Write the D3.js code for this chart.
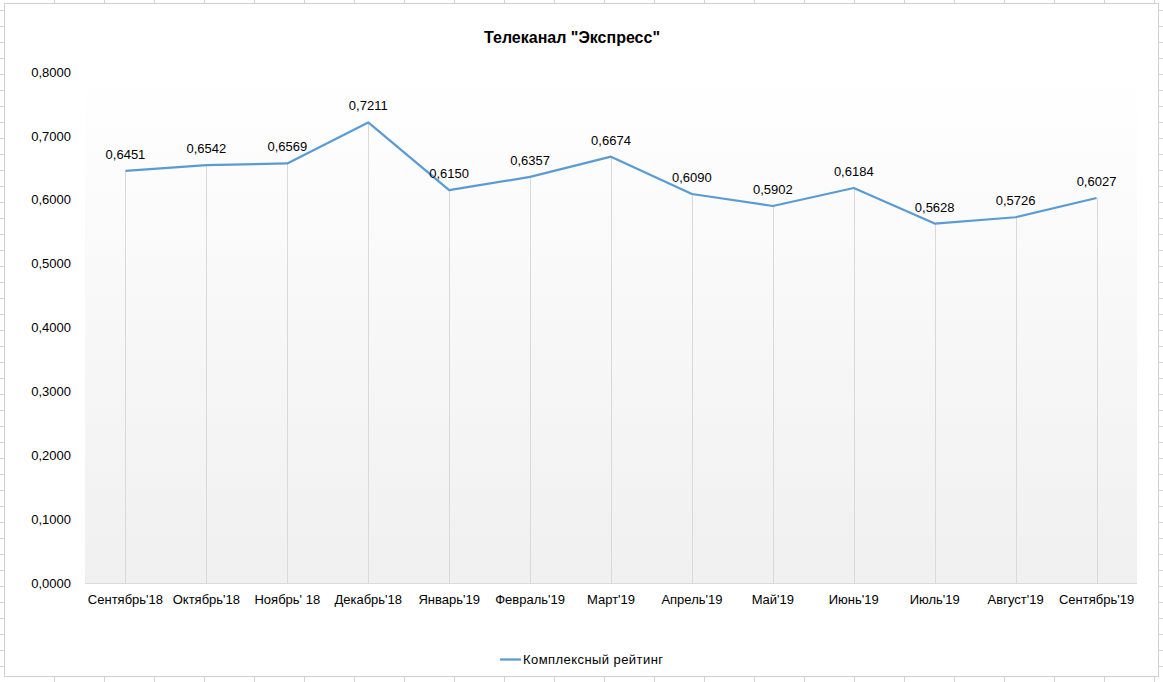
<!DOCTYPE html>
<html><head><meta charset="utf-8">
<script src="https://cdn.jsdelivr.net/npm/d3@7"></script>
<style>body{margin:0;background:#fff}svg{display:block}</style>
</head><body>
<script>
const categories = ["Сентябрь'18","Октябрь'18","Ноябрь' 18","Декабрь'18","Январь'19","Февраль'19","Март'19","Апрель'19","Май'19","Июнь'19","Июль'19","Август'19","Сентябрь'19"];
const values = [0.6451,0.6542,0.6569,0.7211,0.6150,0.6357,0.6674,0.6090,0.5902,0.6184,0.5628,0.5726,0.6027];
const yTicks = [0,0.1,0.2,0.3,0.4,0.5,0.6,0.7,0.8];
const title = 'Телеканал "Экспресс"';
const seriesName = "Комплексный рейтинг";

(function(){
const W=1163,H=682;
const svg=d3.select("body").append("svg").attr("width",W).attr("height",H);
const font="'Liberation Sans', Arial, sans-serif";

// spreadsheet cell grid around the chart
const g0=svg.append("g").attr("stroke","#d4d4d4").attr("stroke-width",1);
for(let yy=10;yy<H;yy+=16){
  g0.append("line").attr("x1",0).attr("x2",4).attr("y1",yy+0.5).attr("y2",yy+0.5);
  g0.append("line").attr("x1",1159).attr("x2",W).attr("y1",yy+0.5).attr("y2",yy+0.5);
}
for(let xx=54;xx<W;xx+=50){
  g0.append("line").attr("x1",xx+0.5).attr("x2",xx+0.5).attr("y1",0).attr("y2",3);
  g0.append("line").attr("x1",xx+0.5).attr("x2",xx+0.5).attr("y1",677).attr("y2",H);
}
svg.append("rect").attr("x",4.5).attr("y",3.5).attr("width",1154).attr("height",673)
  .attr("fill","#fff").attr("stroke","#d0d0d0");

const defs=svg.append("defs");
const grad=defs.append("linearGradient").attr("id","bg").attr("x1",0).attr("x2",0).attr("y1",0).attr("y2",1);
grad.append("stop").attr("offset","0%").attr("stop-color","#ffffff");
grad.append("stop").attr("offset","100%").attr("stop-color","#f0f0f0");

const pL=85,pR=1137,pT=72,pB=583;
const x=d3.scaleBand().domain(categories).range([pL,pR]);
const y=d3.scaleLinear().domain([0,0.8]).range([pB,pT]);

svg.append("rect").attr("x",pL).attr("y",pT).attr("width",pR-pL).attr("height",pB-pT).attr("fill","url(#bg)");

const cx=d=>x(d)+x.bandwidth()/2;

// drop lines
svg.append("g").selectAll("line").data(categories).join("line")
  .attr("x1",d=>Math.round(cx(d))+0.5).attr("x2",d=>Math.round(cx(d))+0.5)
  .attr("y1",(d,i)=>y(values[i])).attr("y2",pB)
  .attr("stroke","#d9d9d9").attr("stroke-width",1);

// x axis line
svg.append("line").attr("x1",pL).attr("x2",pR).attr("y1",pB+0.5).attr("y2",pB+0.5).attr("stroke","#d9d9d9");

// y axis labels
const yAxis=d3.axisLeft(y).tickValues(yTicks).tickSize(0).tickPadding(0)
  .tickFormat(d=>d3.format(".4f")(d).replace(".",","));
const ya=svg.append("g").attr("transform",`translate(71,0)`).call(yAxis);
ya.select(".domain").remove();
ya.selectAll("text").attr("font-family",font).attr("font-size","13px").attr("fill","#000");

// x axis labels
const xAxis=d3.axisBottom(x).tickSize(0).tickPadding(0);
const xa=svg.append("g").attr("transform",`translate(0,${pB+12})`).call(xAxis);
xa.select(".domain").remove();
xa.selectAll("text").attr("font-family",font).attr("font-size","13px").attr("fill","#000");

// line
const line=d3.line().x((d,i)=>cx(categories[i])).y(d=>y(d));
svg.append("path").datum(values).attr("d",line).attr("fill","none")
  .attr("stroke","#5b9bd5").attr("stroke-width",2.25).attr("stroke-linejoin","round");

// data labels
svg.append("g").selectAll("text").data(values).join("text")
  .attr("x",(d,i)=>cx(categories[i])).attr("y",d=>y(d)-12)
  .attr("text-anchor","middle").attr("font-family",font).attr("font-size","13px").attr("fill","#000")
  .text(d=>d3.format(".4f")(d).replace(".",","));

// title
svg.append("text").attr("x",572).attr("y",43).attr("text-anchor","middle")
  .attr("font-family",font).attr("font-size","16px").attr("font-weight","bold").text(title);

// legend
svg.append("line").attr("x1",500).attr("x2",521).attr("y1",659.5).attr("y2",659.5).attr("stroke","#5b9bd5").attr("stroke-width",2.25);
svg.append("text").attr("x",523).attr("y",664).attr("font-family",font).attr("font-size","13px")
  .attr("textLength",140).attr("lengthAdjust","spacing").text(seriesName);
})();
</script>
</body></html>
